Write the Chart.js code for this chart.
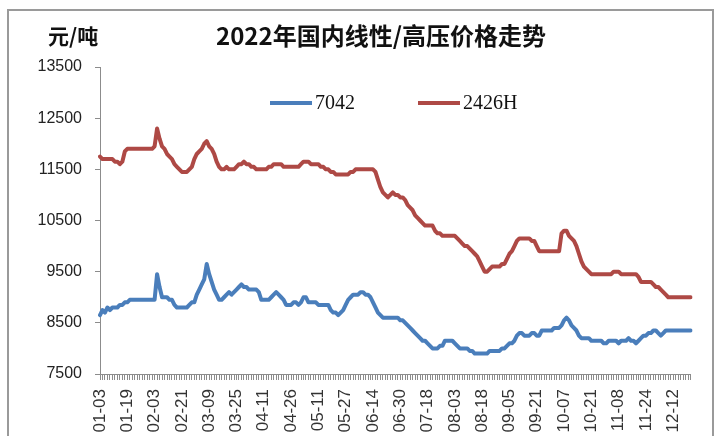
<!DOCTYPE html>
<html>
<head>
<meta charset="utf-8">
<script src="https://cdn.jsdelivr.net/npm/chart.js@4.4.1/dist/chart.umd.min.js"></script>
<style>
  html, body { margin: 0; padding: 0; background: #fff; overflow: hidden; }
  #frame { position: absolute; left: 7px; top: 9px; width: 703px; height: 470px; border: 2px solid #9a9a9a; }
  #wrap { position: absolute; left: 0; top: 0; width: 720px; height: 436px; }
</style>
</head>
<body>
<div id="frame"></div>
<div id="wrap"><canvas id="chart"></canvas></div>
<script>
const titleText = '2022年国内线性/高压价格走势'
const unitText = '元/吨'

// one x label every 11 trading days
const tickLabels = ['01-03', '01-19', '02-03', '02-21', '03-09', '03-25', '04-11', '04-26',
  '05-11', '05-27', '06-14', '06-30', '07-18', '08-03', '08-18', '09-05', '09-21', '10-07',
  '10-21', '11-08', '11-24', '12-12']
const yTickValues = [7500, 8500, 9500, 10500, 11500, 12500, 13500]

const seriesNames = ['7042', '2426H']

const price7042 = [
  8650, 8750, 8700, 8800, 8750, 8800, 8800, 8800, 8850, 8850,
  8900, 8900, 8950, 8950, 8950, 8950, 8950, 8950, 8950, 8950,
  8950, 8950, 8950, 9450, 9200, 9000, 9000, 9000, 8950, 8950,
  8850, 8800, 8800, 8800, 8800, 8800, 8850, 8900, 8900, 9050,
  9150, 9250, 9350, 9650, 9450, 9300, 9150, 9050, 8950, 8950,
  9000, 9050, 9100, 9050, 9100, 9150, 9200, 9250, 9200, 9200,
  9150, 9150, 9150, 9150, 9100, 8950, 8950, 8950, 8950, 9000,
  9050, 9100, 9050, 9000, 8950, 8850, 8850, 8850, 8900, 8900,
  8850, 8900, 9000, 9000, 8900, 8900, 8900, 8900, 8850, 8850,
  8850, 8850, 8850, 8750, 8700, 8700, 8650, 8700, 8750, 8850,
  8950, 9000, 9050, 9050, 9050, 9100, 9100, 9050, 9050, 9000,
  8900, 8800, 8700, 8650, 8600, 8600, 8600, 8600, 8600, 8600,
  8600, 8550, 8550, 8500, 8450, 8400, 8350, 8300, 8250, 8200,
  8150, 8150, 8100, 8050, 8000, 8000, 8000, 8050, 8050, 8150,
  8150, 8150, 8150, 8100, 8050, 8000, 8000, 8000, 8000, 7950,
  7950, 7900, 7900, 7900, 7900, 7900, 7900, 7950, 7950, 7950,
  7950, 7950, 8000, 8000, 8050, 8100, 8100, 8150, 8250, 8300,
  8300, 8250, 8250, 8250, 8300, 8300, 8250, 8250, 8350, 8350,
  8350, 8350, 8350, 8400, 8400, 8400, 8450, 8550, 8600, 8550,
  8450, 8400, 8350, 8250, 8200, 8200, 8200, 8200, 8150, 8150,
  8150, 8150, 8150, 8100, 8100, 8150, 8150, 8150, 8150, 8100,
  8150, 8150, 8150, 8200, 8150, 8150, 8100, 8150, 8200, 8250,
  8250, 8300, 8300, 8350, 8350, 8300, 8250, 8300, 8350, 8350,
  8350, 8350, 8350, 8350, 8350, 8350, 8350, 8350, 8350
]

const price2426H = [
  11750, 11700, 11700, 11700, 11700, 11700, 11650, 11650, 11600, 11650,
  11850, 11900, 11900, 11900, 11900, 11900, 11900, 11900, 11900, 11900,
  11900, 11900, 11950, 12300, 12100, 11950, 11900, 11800, 11750, 11700,
  11600, 11550, 11500, 11450, 11450, 11450, 11500, 11550, 11700, 11800,
  11850, 11900, 12000, 12050, 11950, 11900, 11800, 11650, 11550, 11500,
  11500, 11550, 11500, 11500, 11500, 11550, 11600, 11600, 11650, 11600,
  11600, 11550, 11550, 11500, 11500, 11500, 11500, 11500, 11550, 11550,
  11600, 11600, 11600, 11600, 11550, 11550, 11550, 11550, 11550, 11550,
  11550, 11600, 11650, 11650, 11650, 11600, 11600, 11600, 11600, 11550,
  11550, 11500, 11500, 11450, 11450, 11400, 11400, 11400, 11400, 11400,
  11400, 11450, 11450, 11500, 11500, 11500, 11500, 11500, 11500, 11500,
  11500, 11450, 11300, 11150, 11050, 11000, 10950, 11000, 11050, 11000,
  11000, 10950, 10950, 10900, 10800, 10750, 10700, 10600, 10550, 10500,
  10450, 10400, 10400, 10400, 10400, 10300, 10250, 10250, 10200, 10200,
  10200, 10200, 10200, 10200, 10150, 10100, 10050, 10000, 10000, 9950,
  9900, 9850, 9800, 9700, 9600, 9500, 9500, 9550, 9600, 9600,
  9600, 9600, 9650, 9650, 9750, 9850, 9900, 10000, 10100, 10150,
  10150, 10150, 10150, 10150, 10100, 10100, 10000, 9900, 9900, 9900,
  9900, 9900, 9900, 9900, 9900, 9900, 10250, 10300, 10300, 10200,
  10150, 10100, 10000, 9850, 9700, 9600, 9550, 9500, 9450, 9450,
  9450, 9450, 9450, 9450, 9450, 9450, 9450, 9500, 9500, 9500,
  9450, 9450, 9450, 9450, 9450, 9450, 9450, 9400, 9300, 9300,
  9300, 9300, 9300, 9250, 9200, 9200, 9150, 9100, 9050, 9000,
  9000, 9000, 9000, 9000, 9000, 9000, 9000, 9000, 9000
]

const colors = ['#4A7EBB', '#AE4945']

// category labels: only every 11th day carries text
const labels = price7042.map((v, i) => (i % 11 === 0 ? tickLabels[i / 11] : ''))

// title, unit and legend drawn on the canvas
const overlay = {
  id: 'overlay',
  afterDraw(chart) {
    const ctx = chart.ctx
    ctx.save()
    ctx.fillStyle = '#111'
    ctx.textBaseline = 'middle'
    ctx.textAlign = 'left'
    ctx.font = 'bold 21px "Noto Sans CJK SC"'
    ctx.fillText(unitText, 48, 36)
    ctx.textAlign = 'center'
    ctx.font = 'bold 24px "Noto Sans CJK SC"'
    ctx.fillText(titleText, 381, 36)

    ctx.textAlign = 'left'
    ctx.font = '20px "Liberation Serif"'
    const legendX = [270, 418]
    chart.data.datasets.forEach((ds, i) => {
      const x = legendX[i]
      ctx.strokeStyle = ds.borderColor
      ctx.lineWidth = 4
      ctx.beginPath()
      ctx.moveTo(x, 103)
      ctx.lineTo(x + 42, 103)
      ctx.stroke()
      ctx.fillText(ds.label, x + 45, 104)
    })
    ctx.restore()
  }
}

new Chart(document.getElementById('chart'), {
  type: 'line',
  data: {
    labels: labels,
    datasets: [
      { label: seriesNames[0], data: price7042, borderColor: colors[0], backgroundColor: colors[0] },
      { label: seriesNames[1], data: price2426H, borderColor: colors[1], backgroundColor: colors[1] }
    ]
  },
  options: {
    responsive: true,
    maintainAspectRatio: false,
    animation: false,
    layout: { padding: { top: 67, right: 25, left: 0, bottom: 0 } },
    plugins: {
      legend: { display: false },
      title: { display: false },
      tooltip: { enabled: false }
    },
    elements: {
      point: { radius: 0 },
      line: { tension: 0, borderWidth: 4, borderJoinStyle: 'round', borderCapStyle: 'round' }
    },
    scales: {
      x: {
        grid: { display: true, drawOnChartArea: false, tickLength: 6, color: '#8c8c8c' },
        border: { display: true, color: '#8c8c8c', width: 1 },
        ticks: {
          autoSkip: false, minRotation: 90, maxRotation: 90, padding: 9,
          color: '#333', font: { family: 'Liberation Sans', size: 17 }
        },
        afterFit: (s) => { s.height = 62 }
      },
      y: {
        min: 7500,
        max: 13500,
        grid: { drawOnChartArea: false, tickLength: 5, color: '#8c8c8c' },
        border: { color: '#8c8c8c', width: 1 },
        ticks: {
          padding: 13, color: '#222', font: { family: 'Liberation Sans', size: 16 },
          callback: (v) => String(v)
        },
        afterBuildTicks: (s) => { s.ticks = yTickValues.map(v => ({ value: v })) },
        afterFit: (s) => { s.width = 100 }
      }
    }
  },
  plugins: [overlay]
})
</script>
</body>
</html>
